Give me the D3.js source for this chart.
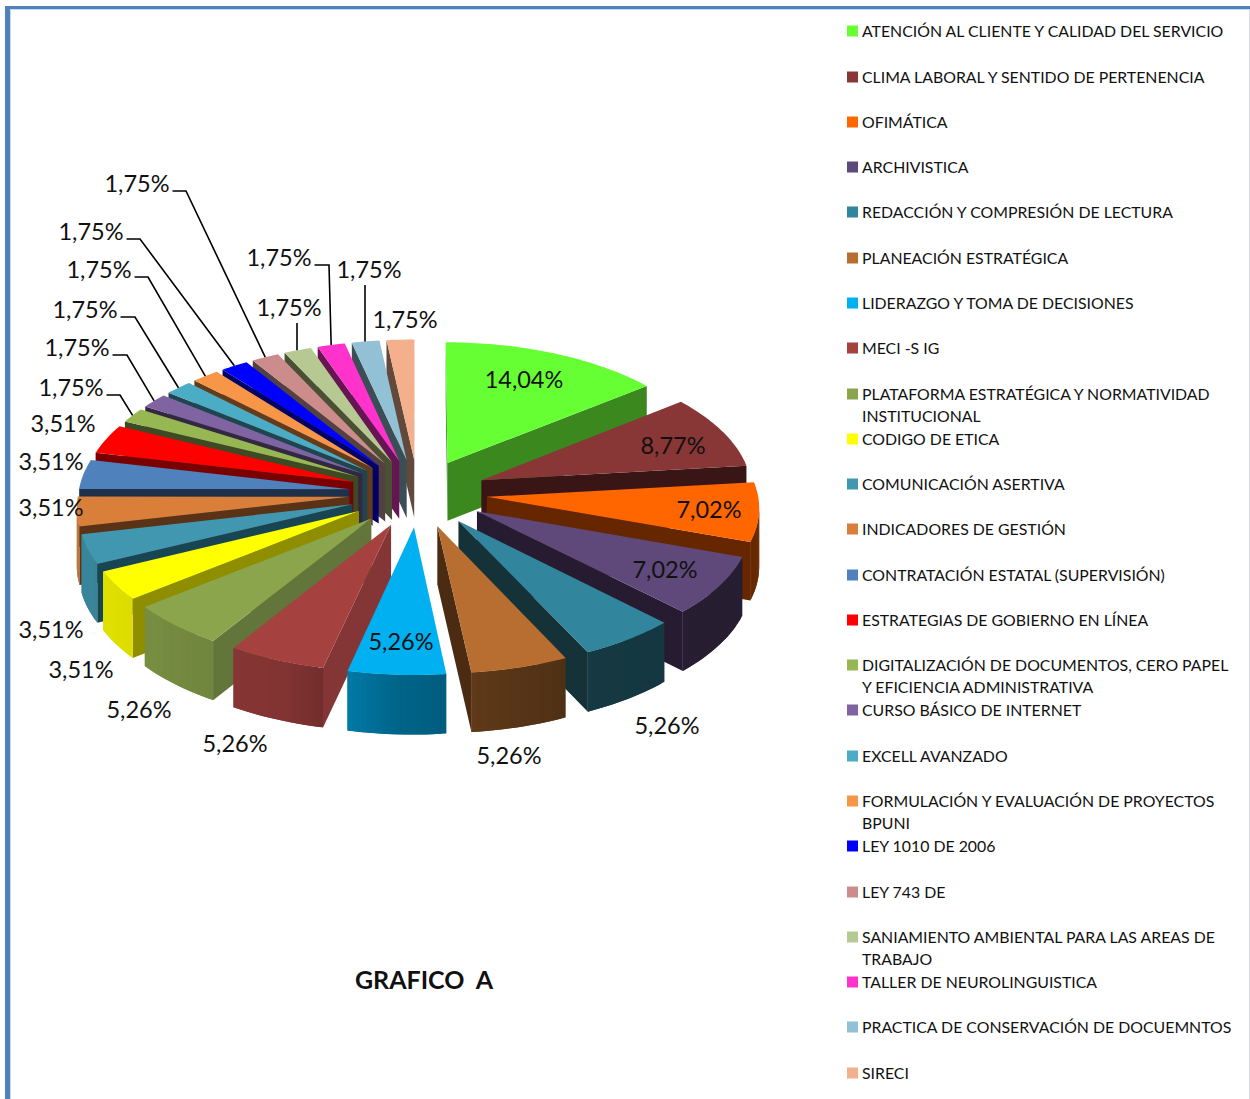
<!DOCTYPE html>
<html><head><meta charset="utf-8">
<script src="https://cdn.jsdelivr.net/npm/d3@7"></script>
<style>html,body{margin:0;background:#fff}svg{display:block}text{font-family:Lato,"Open Sans",sans-serif;fill:#111;white-space:pre}</style>
</head><body><div id="chart"></div>
<script>
const categories = ["ATENCIÓN AL CLIENTE Y CALIDAD DEL SERVICIO","CLIMA LABORAL Y SENTIDO DE PERTENENCIA","OFIMÁTICA","ARCHIVISTICA","REDACCIÓN Y COMPRESIÓN DE LECTURA","PLANEACIÓN ESTRATÉGICA","LIDERAZGO Y TOMA DE DECISIONES","MECI -S IG","PLATAFORMA ESTRATÉGICA Y NORMATIVIDAD\nINSTITUCIONAL","CODIGO DE ETICA","COMUNICACIÓN ASERTIVA","INDICADORES DE GESTIÓN","CONTRATACIÓN ESTATAL (SUPERVISIÓN)","ESTRATEGIAS DE GOBIERNO EN LÍNEA","DIGITALIZACIÓN DE DOCUMENTOS, CERO PAPEL\nY EFICIENCIA ADMINISTRATIVA","CURSO BÁSICO DE INTERNET","EXCELL AVANZADO","FORMULACIÓN Y EVALUACIÓN DE PROYECTOS\nBPUNI","LEY 1010 DE 2006","LEY 743 DE","SANIAMIENTO AMBIENTAL PARA LAS AREAS DE\nTRABAJO","TALLER DE NEUROLINGUISTICA","PRACTICA DE CONSERVACIÓN DE DOCUEMNTOS","SIRECI"];
const percents = [14.04,8.77,7.02,7.02,5.26,5.26,5.26,5.26,5.26,3.51,3.51,3.51,3.51,3.51,1.75,1.75,1.75,1.75,1.75,1.75,1.75,1.75,1.75,1.75];
const topColors = ["#66FF33","#893637","#FF6600","#5F497A","#31859C","#B76E30","#00B0F0","#A54240","#8BA54C","#FFFF00","#4197AF","#D97F3A","#4F81BD","#FF0000","#97B752","#8064A2","#4BACC6","#F79646","#0000FF","#CC8C8C","#B7C993","#FF33CC","#92C0D4","#F4B08C"];
const cutColors = ["#3A881E","#3A1515","#652600","#261B30","#153239","#4B2C13","#005A78","#843636","#62753A","#8E8E00","#184553","#5A3216","#1F304A","#7A0000","#3D4A23","#332840","#1E4550","#633C1C","#000066","#534040","#4A5034","#661452","#3B4E55","#62493B"];
const titleText = "GRAFICO  A";

// Placement of the data labels: [centre x, centre y, x of the leader elbow or null, draws a leader]
const labelLayout = [[524,380],[673,446],[709,510],[665,570],[667,726],[509,756],[401,642],[235,744],[139,710],[81,670],[51,630],[51,508],[51,462],[63,424],
 [71,388,120,1],[77,348,127,1],[85,310,135,1],[99,270,148,1],[91,232,140,1],[137,184,186,1],[289,308,null,1],[279,258,329,1],[369,270,null,1],[405,320]];
const legendRowY = [31,77,122,167,212,258,303,348,394,439,484,529,575,620,665,710,756,801,846,892,937,982,1027,1073];

const W=1250,H=1099;
const svg=d3.select("#chart").append("svg").attr("width",W).attr("height",H);
svg.append("rect").attr("x",1249).attr("y",9).attr("width",1).attr("height",1090).attr("fill","#D5DBEC");
svg.append("rect").attr("x",10).attr("y",9).attr("width",1239).attr("height",1).attr("fill","#C5D9F1");
svg.append("rect").attr("x",10).attr("y",9).attr("width",1).attr("height",1090).attr("fill","#C5D9F1");
svg.append("rect").attr("x",5).attr("y",6).attr("width",1245).attr("height",3).attr("fill","#4F81BD");
svg.append("rect").attr("x",5).attr("y",6).attr("width",5).attr("height",1093).attr("fill","#4F81BD");

const cx=418,cy=493,R=271,explode=69,tilt=.49,persp=4000,depth=58;
const pie=d3.pie().sort(null).value(d=>d);
const arcs=pie(percents);
function project(a,r,z,mid){
  const X=explode*Math.sin(mid)+r*Math.sin(a), Y=-explode*Math.cos(mid)-r*Math.cos(a);
  const s=1/(1-Y/persp);
  return [cx+s*X, cy+s*tilt*Y+Math.pow(s,.3)*z];
}
const outerShade=d3.scaleLinear().domain([0,100,150,165,183,200,220,235,250,270,360].map(d=>d*Math.PI/180)).range([.4,.4,.42,.48,.57,.78,.83,.87,.88,.87,.6]).clamp(true);
const line=d3.line();
// true when the polygon is turned towards the viewer
const facing=pts=>{let s=0;pts.forEach((p,i)=>{const q=pts[(i+1)%pts.length];s+=p[0]*q[1]-q[0]*p[1];});return s<0;};
const g=svg.append("g");
const order=arcs.map((d,i)=>({d,i,mid:(d.startAngle+d.endAngle)/2})).sort((a,b)=>Math.cos(b.mid)-Math.cos(a.mid));
order.forEach(({d,i,mid})=>{
  const sg=g.append("g");
  const face=(pts,fill)=>{ if(facing(pts)) sg.append("path").attr("d",line(pts)+"Z").attr("fill",fill); };
  const a0=d.startAngle,a1=d.endAngle;
  const n=Math.max(2,Math.ceil((a1-a0)/(1*Math.PI/180)));
  const an=d3.range(n+1).map(k=>a0+(a1-a0)*k/n);
  face([project(a0,0,0,mid),project(a0,R,0,mid),project(a0,R,depth,mid),project(a0,0,depth,mid)],cutColors[i]);
  face([project(a1,0,0,mid),project(a1,0,depth,mid),project(a1,R,depth,mid),project(a1,R,0,mid)],cutColors[i]);
  d3.pairs(an).forEach(([u,v])=>{
    const c=d3.color(topColors[i]),f=outerShade((u+v)/2);
    const fill=d3.rgb(c.r*f,c.g*f,c.b*f).formatHex();
    if(!facing([project(u,R,0,mid),project(v,R,0,mid),project(v,R,depth,mid),project(u,R,depth,mid)])) return;
    const w=Math.min(a1,v+(a1-a0)/n); // overlaps the next strip so that no seam shows
    face([project(u,R,0,mid),project(w,R,0,mid),project(w,R,depth,mid),project(u,R,depth,mid)],fill);
  });
  sg.append("path").attr("d",line([project(a0,0,0,mid),...an.map(a=>project(a,R,0,mid))])+"Z").attr("fill",topColors[i]);
});

const fmt=v=>v.toFixed(2).replace(".",",")+"%";
const labelG=svg.append("g");
arcs.forEach((d,i)=>{
  const l=labelLayout[i],mid=(d.startAngle+d.endAngle)/2;
  const t=labelG.append("text").attr("x",l[0]).attr("y",l[1]).attr("dy","0.35em").attr("text-anchor","middle").attr("font-size",23.5).text(fmt(percents[i]));
  if(l[3]){
    const end=project(mid,R,0,mid);
    const w=t.node().getComputedTextLength()/2;
    const vx=l[0]+(i===22?-4:8);
    const pts=l[2]==null?[[vx,l[1]+15],[vx,end[1]]]:[[l[0]+w+3,l[1]+7],[l[2],l[1]+7],end];
    labelG.append("path").attr("d",line(pts)).attr("fill","none").attr("stroke","#000").attr("stroke-width",1.6);
  }
});

const leg=svg.append("g");
categories.forEach((c,i)=>{
  const y=legendRowY[i];
  leg.append("rect").attr("x",847).attr("y",y-5.5).attr("width",11).attr("height",11).attr("fill",topColors[i]);
  c.split("\n").forEach((s,j)=>{
    leg.append("text").attr("x",862).attr("y",y+j*22.6).attr("dy","0.35em").attr("font-size",15.85).text(s);
  });
});
svg.append("text").attr("x",424).attr("y",980).attr("dy","0.35em").attr("text-anchor","middle").attr("font-size",25).attr("font-weight",700).attr("fill","#000").text(titleText);
</script></body></html>
